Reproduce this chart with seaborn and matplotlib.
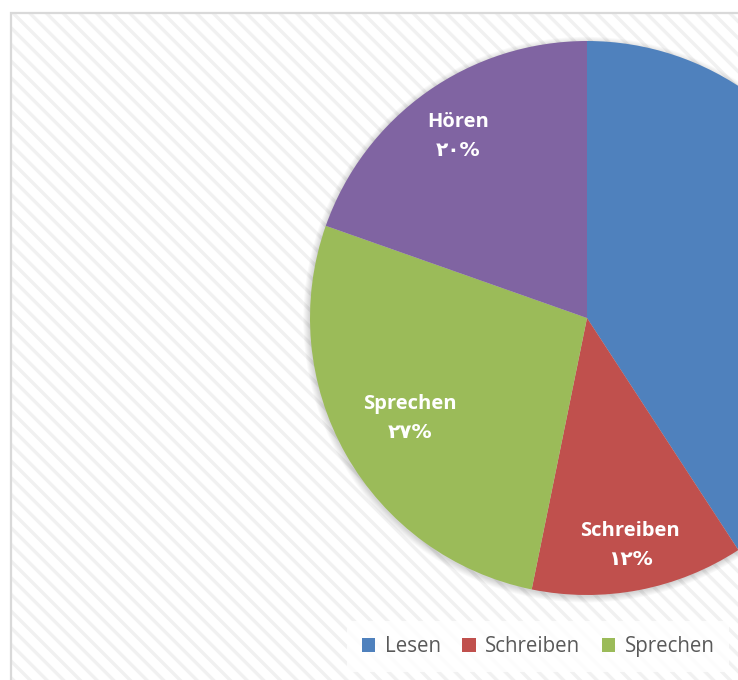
import numpy as np
import matplotlib
matplotlib.use("Agg")
import matplotlib.pyplot as plt
import seaborn as sns
from matplotlib.patches import Rectangle, Circle, Patch

# data (slice sizes)
skills = ["Lesen", "Schreiben", "Sprechen", "Hören"]
shares = [40.8, 12.4, 27.2, 19.6]
colors = ["#4F81BD", "#C0504D", "#9BBB59", "#8064A2"]
# how far out (fraction of radius) each data label sits
label_dist = [0.80, 0.835, 0.735, 0.805]

sns.set_theme(style="white")
plt.rcParams["font.family"] = ["Open Sans", "DejaVu Sans"]
plt.rcParams["hatch.linewidth"] = 2.4

W, H = 738, 680
cx, cy, R = 587, 318, 277   # pie centre / radius in pixels

fig = plt.figure(figsize=(W / 100, H / 100), dpi=100)
ax = fig.add_axes([0, 0, 1, 1])
ax.set_facecolor("none")

# hatched chart area + border
bg = Rectangle((10 / W, -0.1), 1.1, 1 - 12 / H + 0.1, transform=fig.transFigure,
               facecolor="white", edgecolor="#f1f1f1", hatch="\\\\", lw=0, zorder=-5)
ax.add_patch(bg)
frame = Rectangle((10.5 / W, -0.1), 1.1, 1 - 12.5 / H + 0.1, transform=fig.transFigure,
                  facecolor="none", edgecolor="#d9d9d9", lw=1.6, zorder=-4)
ax.add_patch(frame)

# soft shadow under the pie
for k in range(7):
    ax.add_patch(Circle((-0.003, -0.006), 1 + 0.0035 * k, color="black", alpha=0.022, lw=0, zorder=-3))

pal = sns.color_palette(colors)
wedges, _ = ax.pie(shares, colors=pal, startangle=90, counterclock=False,
                   radius=1, center=(0, 0), wedgeprops=dict(lw=0))

xlim = (-cx / R, (W - cx) / R)
ylim = ((cy - H) / R, cy / R)

to_arabic = str.maketrans("0123456789", "٠١٢٣٤٥٦٧٨٩")
for w, name, val, d in zip(wedges, skills, shares, label_dist):
    mid = np.deg2rad((w.theta1 + w.theta2) / 2)
    x, y = d * np.cos(mid), d * np.sin(mid)
    if x + 0.2 > xlim[1]:
        continue  # label lies outside the visible chart area
    ax.text(x, y + 0.05, name, ha="center", va="center", color="white",
            fontsize=14.5, fontweight="bold")
    ax.text(x, y - 0.053, str(round(val)).translate(to_arabic) + "%",
            ha="center", va="center", color="white", fontsize=14.5,
            fontweight="bold", family=["DejaVu Sans"])

ax.set_xlim(*xlim)
ax.set_ylim(*ylim)
ax.set_aspect("equal")
ax.axis("off")

# only the first three legend entries fit inside the visible area
n_leg = 3
handles = [Patch(facecolor=c, edgecolor="none") for c in colors[:n_leg]]
leg = fig.legend(handles, skills[:n_leg], ncol=n_leg, loc="upper left",
                 bbox_to_anchor=(347 / W, 1 - 621 / H), frameon=True,
                 fontsize=14.8, handlelength=0.66, handleheight=0.66,
                 handletextpad=0.45, columnspacing=1.05, borderpad=0.72,
                 borderaxespad=0, fancybox=False, labelcolor="#595959")
leg.get_frame().set_facecolor("white")
leg.get_frame().set_edgecolor("none")
leg.get_frame().set_alpha(0.85)

fig.savefig("out.png", dpi=100)
